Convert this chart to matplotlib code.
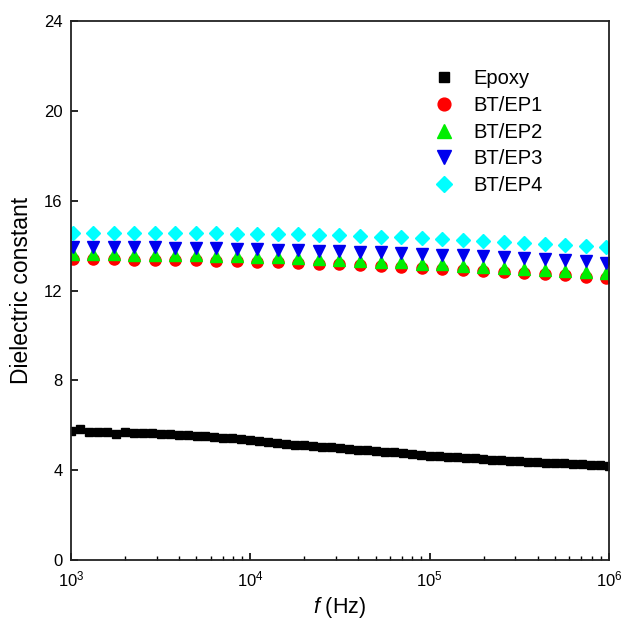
import matplotlib
matplotlib.use("Agg")
import matplotlib.pyplot as plt
from matplotlib.ticker import LogLocator, NullFormatter, FixedLocator

plt.rcParams["font.family"] = ["Liberation Sans", "DejaVu Sans"]
plt.rcParams["mathtext.fontset"] = "custom"
plt.rcParams["mathtext.rm"] = "Liberation Sans"
plt.rcParams["mathtext.it"] = "Liberation Sans:italic"

# epoxy sweep: 20 points per decade, 1 kHz .. 1 MHz
freq_epoxy = [
    1000, 1122, 1259, 1413, 1585, 1778, 1995, 2239, 2512, 2818,
    3162, 3548, 3981, 4467, 5012, 5623, 6310, 7079, 7943, 8913,
    10000, 11220, 12589, 14125, 15849, 17783, 19953, 22387, 25119, 28184,
    31623, 35481, 39811, 44668, 50119, 56234, 63096, 70795, 79433, 89125,
    100000, 112202, 125893, 141254, 158489, 177828, 199526, 223872, 251189, 281838,
    316228, 354813, 398107, 446684, 501187, 562341, 630957, 707946, 794328, 891251,
    1000000,
]
epoxy = [
    5.75, 5.85, 5.72, 5.72, 5.70, 5.60, 5.68, 5.66, 5.65, 5.64,
    5.62, 5.60, 5.58, 5.56, 5.53, 5.50, 5.48, 5.45, 5.42, 5.38,
    5.33, 5.28, 5.24, 5.20, 5.17, 5.14, 5.10, 5.07, 5.04, 5.01,
    4.97, 4.94, 4.91, 4.88, 4.85, 4.82, 4.79, 4.76, 4.72, 4.68,
    4.64, 4.62, 4.60, 4.57, 4.54, 4.52, 4.50, 4.47, 4.45, 4.42,
    4.40, 4.38, 4.36, 4.34, 4.32, 4.30, 4.28, 4.26, 4.24, 4.22,
    4.20,
]

# composite sweep (coarser grid)
freq_bt = [
    1023, 1332, 1733, 2255, 2935, 3819, 4970, 6468, 8418,
    10955, 14256, 18553, 24144, 31420, 40889, 53211, 69247, 90116,
    117275, 152617, 198609, 258463, 336355, 437719, 569632, 741310, 964715,
]
bt_ep1 = [
    13.40, 13.40, 13.39, 13.38, 13.37, 13.36, 13.35, 13.33, 13.31,
    13.29, 13.26, 13.23, 13.20, 13.16, 13.12, 13.08, 13.04, 13.00,
    12.96, 12.92, 12.87, 12.83, 12.78, 12.73, 12.68, 12.62, 12.57,
]
bt_ep2 = [
    13.62, 13.62, 13.61, 13.60, 13.59, 13.58, 13.56, 13.54, 13.52,
    13.50, 13.47, 13.44, 13.41, 13.37, 13.33, 13.29, 13.25, 13.20,
    13.16, 13.11, 13.06, 13.01, 12.96, 12.91, 12.86, 12.81, 12.76,
]
bt_ep3 = [
    13.95, 13.95, 13.94, 13.93, 13.92, 13.91, 13.90, 13.88, 13.86,
    13.84, 13.82, 13.80, 13.78, 13.76, 13.73, 13.70, 13.66, 13.62,
    13.59, 13.56, 13.52, 13.48, 13.44, 13.39, 13.34, 13.30, 13.24,
]
bt_ep4 = [
    14.57, 14.57, 14.57, 14.57, 14.56, 14.56, 14.55, 14.54, 14.53,
    14.52, 14.51, 14.50, 14.49, 14.47, 14.43, 14.39, 14.37, 14.32,
    14.29, 14.27, 14.22, 14.17, 14.13, 14.08, 14.04, 13.99, 13.95,
]

y_ticks = [0, 4, 8, 12, 16, 20, 24]

fig = plt.figure(figsize=(6.21, 6.23), dpi=100)
ax = fig.add_axes([0.1143, 0.1011, 0.8664, 0.8652])

ax.plot(freq_epoxy, epoxy, linestyle="none", marker="s", ms=6, color="black", label="Epoxy")
ax.plot(freq_bt, bt_ep1, linestyle="none", marker="o", ms=8, color="#ff0000", label="BT/EP1")
ax.plot(freq_bt, bt_ep2, linestyle="none", marker="^", ms=8.5, color="#00ee00", label="BT/EP2")
ax.plot(freq_bt, bt_ep3, linestyle="none", marker="v", ms=8.5, color="#0000ee", label="BT/EP3")
ax.plot(freq_bt, bt_ep4, linestyle="none", marker="D", ms=7, color="#00ffff", label="BT/EP4")

ax.set_xscale("log")
ax.set_xlim(1e3, 1e6)
ax.set_ylim(0, 24)
ax.yaxis.set_major_locator(FixedLocator(y_ticks))
ax.xaxis.set_major_locator(LogLocator(base=10, numticks=10))
ax.xaxis.set_minor_locator(LogLocator(base=10, subs=range(2, 10), numticks=20))
ax.xaxis.set_minor_formatter(NullFormatter())

ax.tick_params(which="both", direction="in", top=False, right=False, labelsize=12)
ax.tick_params(which="major", length=5, width=1.2)
ax.tick_params(which="minor", length=3, width=1)
ax.tick_params(axis="x", pad=7)
ax.tick_params(axis="y", pad=6)
for spine in ax.spines.values():
    spine.set_linewidth(1.3)
    spine.set_color("#222222")

ax.set_xlabel(r"$f$ (Hz)", fontsize=15.5, labelpad=4)
ax.set_ylabel("Dielectric constant", fontsize=16.5, labelpad=8)

ax.legend(loc="upper left", bbox_to_anchor=(0.64, 0.925), frameon=False,
          fontsize=14.5, handletextpad=0.5, labelspacing=0.38, borderaxespad=0,
          markerscale=1.15)

fig.savefig("out.png", dpi=100)
